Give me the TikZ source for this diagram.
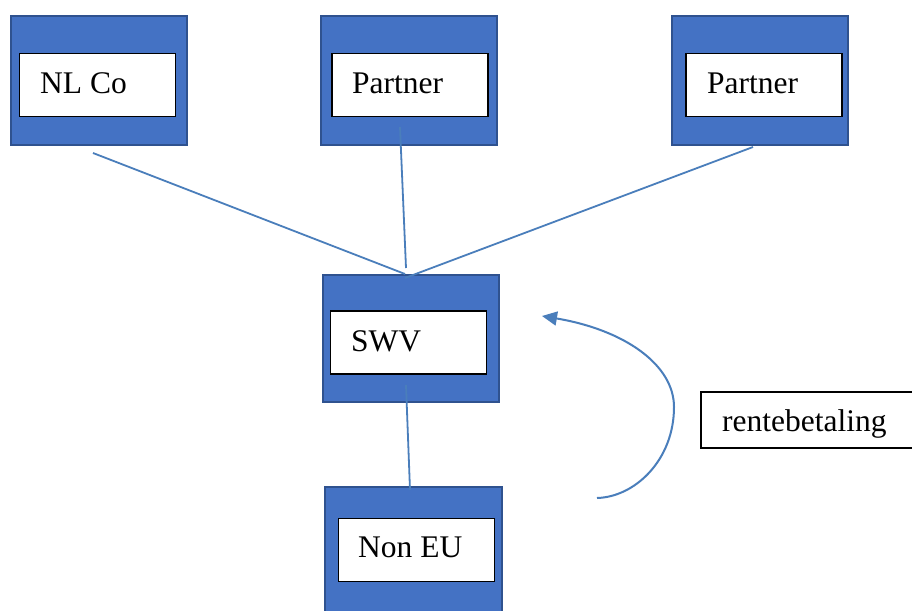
\documentclass[tikz,border=0pt]{standalone}
\usepackage{fontspec}
\setmainfont{Liberation Serif}
\usetikzlibrary{arrows.meta}
\definecolor{boxblue}{HTML}{4472C4}
\definecolor{boxedge}{HTML}{2F528F}
\definecolor{linkblue}{HTML}{4A7EBB}
\begin{document}
\begin{tikzpicture}[x=1pt,y=-1pt,
  outerbox/.style={draw=boxedge,fill=boxblue,line width=2pt,rectangle,inner sep=0pt,outer sep=0pt},
  innerbox/.style={draw=black,fill=white,line width=1.4pt,rectangle,inner sep=0pt,outer sep=0pt,minimum width=156pt,minimum height=63pt},
  lbl/.style={anchor=base west,inner sep=0pt,font=\fontsize{31.5}{36}\selectfont},
  link/.style={draw=linkblue,line width=1.8pt},
  curvearrow/.style={draw=linkblue,line width=2pt,-{Triangle[length=15pt,width=14pt]}}]
\useasboundingbox (0,0) rectangle (912,610);
\fill[white] (0,0) rectangle (912,610);
% outer boxes
\node[outerbox,minimum width=176pt,minimum height=128pt] (nlco) at (98.5,80.5) {};
\node[outerbox,minimum width=176pt,minimum height=128pt] (p1) at (408.5,80.5) {};
\node[outerbox,minimum width=176pt,minimum height=128pt] (p2) at (759.5,80.5) {};
\node[outerbox,minimum width=176pt,minimum height=127pt] (swv) at (410.5,338) {};
\node[outerbox,minimum width=177pt,minimum height=130pt] (noneu) at (413,552) {};
% inner boxes
\node[innerbox] (nlcoin) at (97.5,85) {};
\node[innerbox] (p1in) at (410,85) {};
\node[innerbox] (p2in) at (764,85) {};
\node[innerbox] (swvin) at (408.5,342.5) {};
\node[innerbox] (noneuin) at (416.5,550) {};
\node[draw=black,fill=white,line width=1.3pt,rectangle,inner sep=0pt,minimum width=230pt,minimum height=56pt] (rente) at (816,420) {};
% labels
\node[lbl] (t1) at (40,93) {NL Co};
\node[lbl] (t2) at (352,93) {Partner};
\node[lbl] (t3) at (707,93) {Partner};
\node[lbl] (t4) at (351,351) {SWV};
\node[lbl] (t5) at (358,557) {Non EU};
\node[lbl] (t6) at (722,431) {rentebetaling};
% connector end points
\coordinate (nlcoout) at (93,153);
\coordinate (p1out) at (400,127);
\coordinate (p2out) at (753,147);
\coordinate (swvinA) at (405,274);
\coordinate (swvinB) at (406,268);
\coordinate (swvinC) at (405,278);
\coordinate (swvout) at (406,385);
\coordinate (noneuin2) at (410,490);
\coordinate (arrstart) at (597,498);
\coordinate (arrmid) at (674,407);
\coordinate (arrend) at (542,316);
% connectors
\draw[link] (nlcoout) -- (swvinA);
\draw[link] (p1out) -- (swvinB);
\draw[link] (p2out) -- (swvinC);
\draw[link] (swvout) -- (noneuin2);
\draw[curvearrow] (arrstart) .. controls (635,497) and (674,460) .. (arrmid)
  .. controls (674,365) and (625,330) .. (arrend);
\end{tikzpicture}
\end{document}
